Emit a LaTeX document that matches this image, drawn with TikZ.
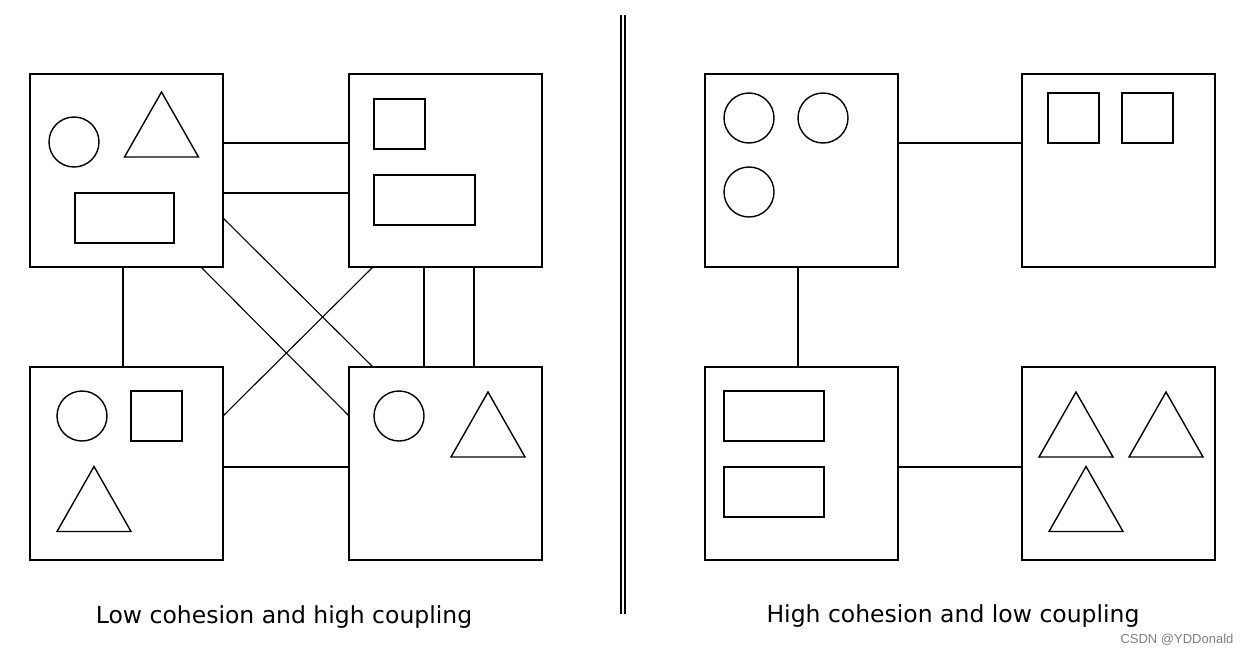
\documentclass[tikz,border=0pt]{standalone}
\usepackage{fontspec}
\newfontfamily\labelfont{DejaVu Sans}
\newfontfamily\markfont{Liberation Sans}
\usetikzlibrary{positioning}

\tikzset{
  modbox/.style={draw,line width=1.5pt,minimum width=193pt,minimum height=193pt,inner sep=0pt,outer sep=0pt},
  link/.style={line width=1.5pt},
  crosslink/.style={line width=1.1pt},
  part/.style={line width=1.4pt},
  tri/.pic={\draw[part] (-37,0) -- (0,-65) -- (37,0) -- cycle;},
  caption/.style={font=\labelfont\fontsize{23.5}{28}\selectfont,anchor=base}
}

\begin{document}
\begin{tikzpicture}[x=1pt,y=-1pt]
\useasboundingbox (0,0) rectangle (1246,653);

% low cohesion, high coupling
\node[modbox] (lt) at (126.5,170.5) {};
\node[modbox,right=126pt of lt] (rt) {};
\node[modbox,below=100pt of lt] (lb) {};
\node[modbox,right=126pt of lb] (rb) {};

\draw[part] (74,142) circle[radius=25pt];
\pic at (161.5,157) {tri};
\draw[part] (75,193) rectangle (174,243);
\draw[part] (374,99) rectangle (425,149);
\draw[part] (374,175) rectangle (475,225);
\draw[part] (82,416) circle[radius=25pt];
\draw[part] (131,391) rectangle (182,441);
\pic at (94,531.5) {tri};
\draw[part] (399,416) circle[radius=25pt];
\pic at (488,457) {tri};

\draw[link] ([yshift=27.5pt]lt.east) -- ([yshift=27.5pt]rt.west);
\draw[link] ([yshift=-22.5pt]lt.east) -- ([yshift=-22.5pt]rt.west);
\draw[link] ([xshift=-3.5pt]lt.south) -- ([xshift=-3.5pt]lb.north);
\draw[link] ([xshift=-21.5pt]rt.south) -- ([xshift=-21.5pt]rb.north);
\draw[link] ([xshift=28.5pt]rt.south) -- ([xshift=28.5pt]rb.north);
\draw[link] ([yshift=-3.5pt]lb.east) -- ([yshift=-3.5pt]rb.west);
\draw[crosslink] ([yshift=-47.5pt]lt.east) -- ([xshift=-72.5pt]rb.north);
\draw[crosslink] ([xshift=74.5pt]lt.south) -- ([yshift=47.5pt]rb.west);
\draw[crosslink] ([xshift=-72.5pt]rt.south) -- ([yshift=47.5pt]lb.east);

% separator
\draw[line width=1.2pt] (621,15) -- (621,614);
\draw[line width=1.2pt] (625,15) -- (625,614);

% high cohesion, low coupling
\node[modbox] (lt2) at (801.5,170.5) {};
\node[modbox,right=124pt of lt2] (rt2) {};
\node[modbox,below=100pt of lt2] (lb2) {};
\node[modbox,right=124pt of lb2] (rb2) {};

\draw[part] (749,118) circle[radius=25pt];
\draw[part] (823,118) circle[radius=25pt];
\draw[part] (749,192) circle[radius=25pt];
\draw[part] (1048,93) rectangle (1099,143);
\draw[part] (1122,93) rectangle (1173,143);
\draw[part] (724,391) rectangle (824,441);
\draw[part] (724,467) rectangle (824,517);
\pic at (1076,457) {tri};
\pic at (1166,457) {tri};
\pic at (1086,531.5) {tri};

\draw[link] ([yshift=27.5pt]lt2.east) -- ([yshift=27.5pt]rt2.west);
\draw[link] ([xshift=-3.5pt]lt2.south) -- ([xshift=-3.5pt]lb2.north);
\draw[link] ([yshift=-3.5pt]lb2.east) -- ([yshift=-3.5pt]rb2.west);

\node[caption] (lowlbl) at (284,623) {Low cohesion and high coupling};
\node[caption] (highlbl) at (953,622) {High cohesion and low coupling};
\node[font=\markfont\fontsize{13}{15}\selectfont,text=black!50,anchor=base west] (mark) at (1117,643) {CSDN @YDDonald};
\end{tikzpicture}
\end{document}
